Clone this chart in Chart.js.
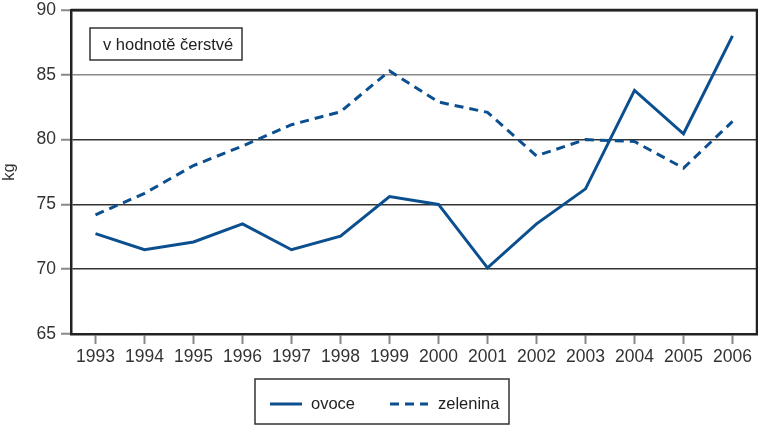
<!DOCTYPE html>
<html><head><meta charset="utf-8">
<script src="https://cdn.jsdelivr.net/npm/chart.js@4/dist/chart.umd.min.js"></script>
<style>html,body{margin:0;padding:0;background:#fff}#wrap{width:758px;height:426px}</style>
</head><body><div id="wrap"><canvas id="c" width="758" height="426"></canvas></div>
<script>
const years = ['1993','1994','1995','1996','1997','1998','1999','2000','2001','2002','2003','2004','2005','2006'];
const ovoce = [72.75,71.5,72.1,73.5,71.5,72.55,75.6,75.0,70.1,73.5,76.2,83.8,80.45,88.0];
const zelenina = [74.2,75.85,78.0,79.5,81.15,82.15,85.3,82.9,82.1,78.75,80.0,79.85,77.8,81.4];
const yTicks = [65,70,75,80,85,90];
const noteText = 'v hodnotě čerstvé';
const yTitle = 'kg';

const BLUE = '#0b4f8f';
const FONT = '"Liberation Sans", Arial, sans-serif';

const framePlugin = {
  id: 'frame',
  afterDraw(chart) {
    const {ctx, chartArea: a} = chart;
    ctx.save();
    ctx.strokeStyle = '#222';
    ctx.lineWidth = 2.5;
    ctx.beginPath();
    ctx.moveTo(a.left, a.top); ctx.lineTo(a.right, a.top); ctx.lineTo(a.right, a.bottom);
    ctx.stroke();
    // note box
    ctx.lineWidth = 1.5;
    ctx.strokeStyle = '#333';
    ctx.fillStyle = '#fff';
    ctx.fillRect(90, 28, 152, 32);
    ctx.strokeRect(90, 28, 152, 32);
    ctx.fillStyle = '#222';
    ctx.font = '16.5px ' + FONT;
    ctx.textBaseline = 'middle';
    ctx.textAlign = 'left';
    ctx.fillText(noteText, 103, 45);
    // legend
    ctx.strokeRect(255, 379, 254, 45);
    const ds = chart.data.datasets;
    const items = [{x1:270,x2:302,tx:311},{x1:390,x2:428,tx:438}];
    items.forEach((it, i) => {
      ctx.strokeStyle = ds[i].borderColor;
      ctx.lineWidth = 3;
      ctx.setLineDash(ds[i].borderDash || []);
      ctx.beginPath(); ctx.moveTo(it.x1, 404); ctx.lineTo(it.x2, 404); ctx.stroke();
      ctx.setLineDash([]);
      ctx.fillStyle = '#222';
      ctx.fillText(ds[i].label, it.tx, 404);
    });
    ctx.restore();
  }
};

new Chart(document.getElementById('c'), {
  type: 'line',
  data: {
    labels: years,
    datasets: [
      {label: 'ovoce', data: ovoce, borderColor: BLUE, borderWidth: 3, pointRadius: 0, tension: 0, fill: false},
      {label: 'zelenina', data: zelenina, borderColor: BLUE, borderWidth: 3, borderDash: [9,6], pointRadius: 0, tension: 0, fill: false}
    ]
  },
  options: {
    responsive: false,
    animation: false,
    layout: {padding: {left: 0, top: 0, right: 1, bottom: 60}},
    plugins: {legend: {display: false}, tooltip: {enabled: false}},
    scales: {
      x: {
        offset: true,
        grid: {display: true, drawOnChartArea: false, drawTicks: true, tickLength: 10, tickColor: '#888', tickWidth: 2, offset: false},
        border: {display: true, color: '#222', width: 2.5},
        ticks: {color: '#333', font: {family: FONT, size: 17.5}, padding: 3, maxRotation: 0, autoSkip: false},
        afterFit(s) { s.height = 32; }
      },
      y: {
        min: 65, max: 90,
        afterBuildTicks(s) { s.ticks = yTicks.map(v => ({value: v})); },
        grid: {
          color: (c) => c.tick && c.tick.value === 85 ? '#8a8a8a' : '#333',
          lineWidth: (c) => c.tick && c.tick.value === 90 ? 2.5 : 1.5,
          tickLength: 10, tickColor: '#888', tickWidth: 2
        },
        border: {display: true, color: '#222', width: 2.5},
        ticks: {color: '#333', font: {family: FONT, size: 17.5}, padding: 5},
        title: {display: true, text: yTitle, color: '#333', font: {family: FONT, size: 16.5}, padding: {top: 0, bottom: 0}},
        afterFit(s) { s.width = 71; s.paddingTop = 10; s.paddingBottom = 0; }
      }
    }
  },
  plugins: [framePlugin]
});
</script>
</body></html>
